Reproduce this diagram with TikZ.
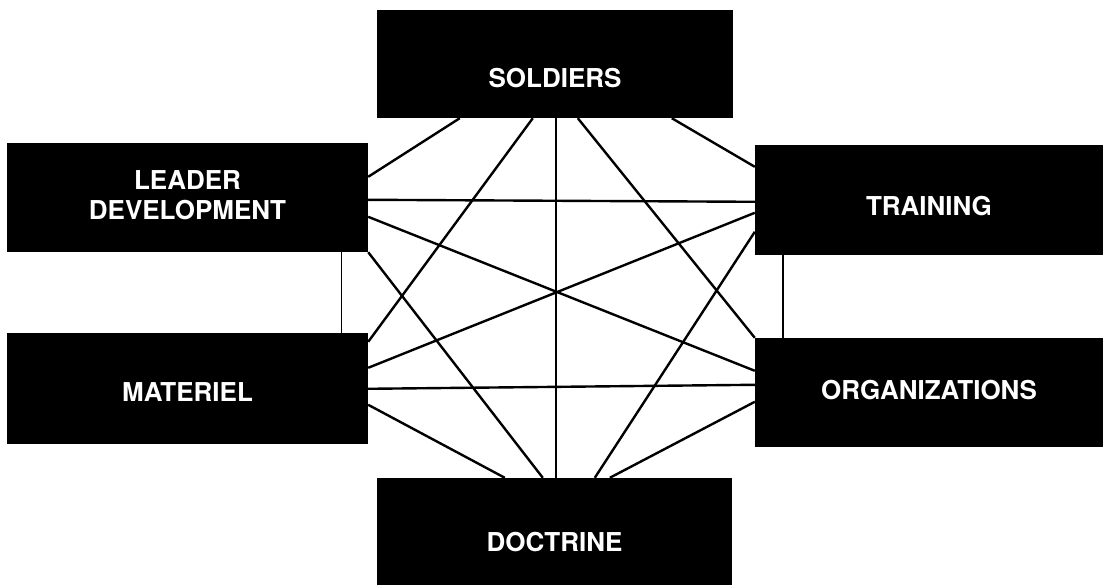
\documentclass[tikz,border=0pt]{standalone}
\usepackage{fontspec}
\newfontfamily\unitfont{TeX Gyre Heros}
\usetikzlibrary{calc}

\begin{document}
\begin{tikzpicture}[x=1pt,y=-1pt,
    unit/.style 2 args={fill=black,inner sep=0pt,minimum width=#1,minimum height=#2},
    unitlabel/.style={text=white,align=center,font=\unitfont\bfseries\fontsize{26}{30}\selectfont},
    link/.style={line width=2.4pt},
    tie/.style={line width=1.4pt}]
  \fill[white] (0,0) rectangle (1103,585);
  \useasboundingbox (0,0) rectangle (1103,585);

  % the six domains
  \node[unit={356pt}{108pt},label={[unitlabel,yshift=-14pt]center:SOLDIERS}] (soldiers) at (555,64) {};
  \node[unit={361pt}{109pt},label={[unitlabel,yshift=2pt]center:LEADER\\DEVELOPMENT}] (leader) at (187.5,197.5) {};
  \node[unit={348pt}{110pt},label={[unitlabel,yshift=-6pt]center:TRAINING}] (training) at (929,200) {};
  \node[unit={361pt}{111pt},label={[unitlabel,yshift=-3.5pt]center:MATERIEL}] (materiel) at (187.5,388.5) {};
  \node[unit={348pt}{109pt},label={[unitlabel,yshift=2.5pt]center:ORGANIZATIONS}] (organizations) at (929,392.5) {};
  \node[unit={355pt}{107pt},label={[unitlabel,yshift=-10.5pt]center:DOCTRINE}] (doctrine) at (554.5,531.5) {};

  % every pair is linked
  \draw[link] ([xshift=83pt]soldiers.south west) -- ([yshift=-34pt]leader.north east);
  \draw[link] ([xshift=156pt]soldiers.south west) -- ([yshift=-9pt]materiel.north east);
  \draw[link] ([xshift=179pt]soldiers.south west) -- ([xshift=179pt]doctrine.north west);
  \draw[link] ([xshift=201pt]soldiers.south west) -- (organizations.north west);
  \draw[link] ([xshift=295pt]soldiers.south west) -- ([yshift=-22pt]training.north west);

  \draw[link] ([yshift=-57pt]leader.north east) -- ([yshift=-57pt]training.north west);
  \draw[link] ([yshift=-74pt]leader.north east) -- ([yshift=-33pt]organizations.north west);
  \draw[link] (leader.south east) -- ([xshift=166pt]doctrine.north west);
  \draw[tie] ([xshift=-27pt]leader.south east) -- ([xshift=-27pt]materiel.north east);

  \draw[link] ([yshift=-68pt]training.north west) -- ([yshift=-35pt]materiel.north east);
  \draw[link] ([yshift=-87pt]training.north west) -- ([xshift=218pt]doctrine.north west);
  \draw[tie] ([xshift=28pt]training.south west) -- ([xshift=28pt]organizations.north west);

  \draw[link] ([yshift=-56pt]materiel.north east) -- ([yshift=-47pt]organizations.north west);
  \draw[link] ([yshift=-72pt]materiel.north east) -- ([xshift=128pt]doctrine.north west);

  \draw[link] ([yshift=-64pt]organizations.north west) -- ([xshift=233pt]doctrine.north west);

\end{tikzpicture}
\end{document}
